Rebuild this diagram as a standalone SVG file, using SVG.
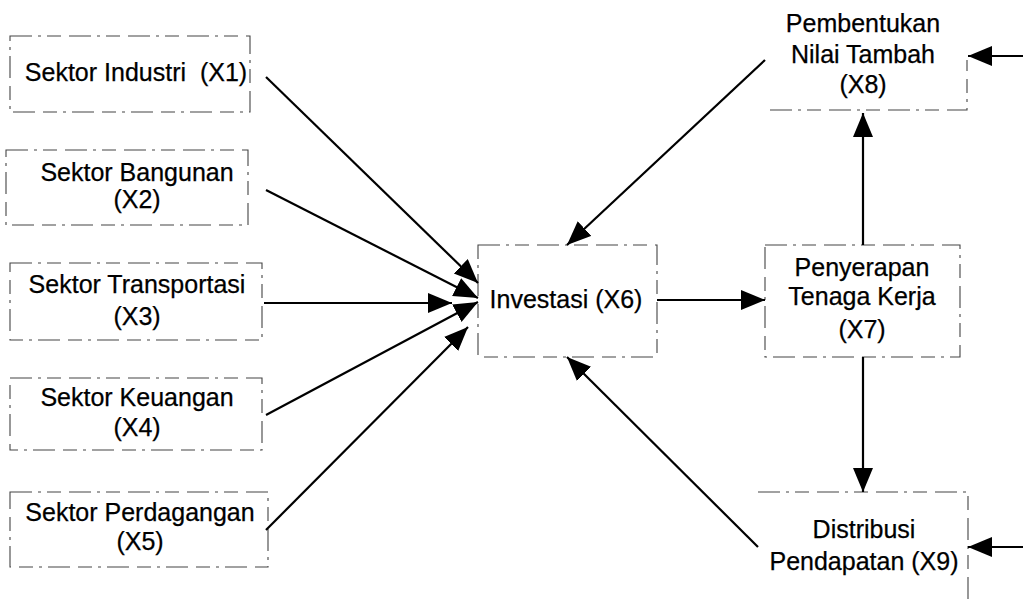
<svg xmlns="http://www.w3.org/2000/svg" width="1023" height="599" viewBox="0 0 1023 599">
<style>
.box{fill:none;stroke:#444;stroke-width:1.1;stroke-dasharray:22 6 3 6 14 8}
.t{font-family:"Liberation Sans",Arial,sans-serif;font-size:25px;fill:#000;stroke:#000;stroke-width:0.25;text-anchor:middle}
.c{fill:none;stroke:#000;stroke-width:2.2}
</style>
<defs>
<marker id="ah" markerUnits="userSpaceOnUse" markerWidth="26" markerHeight="22" refX="24" refY="10" orient="auto">
<path d="M0,0 L24,10 L0,20 z" fill="#000"/>
</marker>
</defs>
<rect width="1023" height="599" fill="#fff"/>
<g id="x1"><rect class="box" x="10" y="36" width="240" height="76"/><text class="t" x="136" y="81" xml:space="preserve">Sektor Industri  (X1)</text></g>
<g id="x2"><rect class="box" x="6" y="150" width="242" height="75"/><text class="t" x="137" y="181">Sektor Bangunan</text><text class="t" x="137" y="208">(X2)</text></g>
<g id="x3"><rect class="box" x="10" y="263" width="252" height="77"/><text class="t" x="137" y="293">Sektor Transportasi</text><text class="t" x="137" y="325">(X3)</text></g>
<g id="x4"><rect class="box" x="10" y="378" width="252" height="72"/><text class="t" x="137" y="406">Sektor Keuangan</text><text class="t" x="137" y="436">(X4)</text></g>
<g id="x5"><rect class="box" x="10" y="492" width="258" height="75"/><text class="t" x="140" y="521">Sektor Perdagangan</text><text class="t" x="140" y="550">(X5)</text></g>
<g id="x6"><rect class="box" x="478" y="245" width="179" height="112"/><text class="t" x="566" y="308">Investasi (X6)</text></g>
<g id="x7"><rect class="box" x="765" y="245" width="195" height="112"/><text class="t" x="862" y="276">Penyerapan</text><text class="t" x="862" y="305">Tenaga Kerja</text><text class="t" x="862" y="338">(X7)</text></g>
<g id="x8"><path class="box" d="M770,110 L967,110 L967,60"/><text class="t" x="863" y="32">Pembentukan</text><text class="t" x="863" y="63">Nilai Tambah</text><text class="t" x="863" y="93">(X8)</text></g>
<g id="x9"><path class="box" d="M758,492 L968,492 L968,599"/><text class="t" x="864" y="538">Distribusi</text><text class="t" x="864" y="570">Pendapatan (X9)</text></g>
<g id="connectors">
<line class="c" x1="266" y1="77" x2="478" y2="283" marker-end="url(#ah)"/>
<line class="c" x1="266" y1="190" x2="478" y2="298" marker-end="url(#ah)"/>
<line class="c" x1="264" y1="303" x2="452" y2="303" marker-end="url(#ah)"/>
<line class="c" x1="266" y1="415" x2="478" y2="302" marker-end="url(#ah)"/>
<line class="c" x1="266" y1="530" x2="468" y2="327" marker-end="url(#ah)"/>
<line class="c" x1="657" y1="300" x2="765" y2="300" marker-end="url(#ah)"/>
<line class="c" x1="765" y1="60" x2="567" y2="245" marker-end="url(#ah)"/>
<line class="c" x1="758" y1="547" x2="567" y2="357" marker-end="url(#ah)"/>
<line class="c" x1="863" y1="245" x2="863" y2="113" marker-end="url(#ah)"/>
<line class="c" x1="863" y1="357" x2="863" y2="492" marker-end="url(#ah)"/>
<line class="c" x1="1023" y1="56" x2="968" y2="56" marker-end="url(#ah)"/>
<line class="c" x1="1023" y1="547" x2="968" y2="547" marker-end="url(#ah)"/>
</g>
</svg>
